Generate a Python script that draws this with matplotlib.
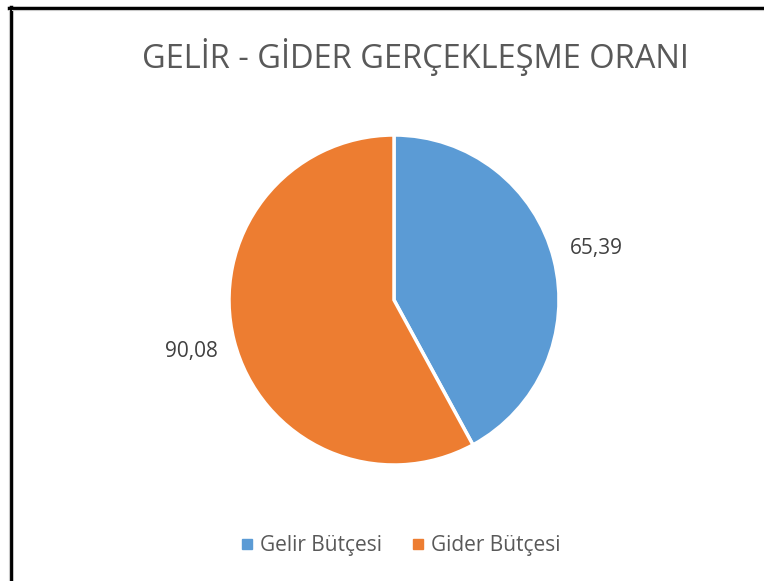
import matplotlib
matplotlib.use("Agg")
import matplotlib.pyplot as plt
from matplotlib.lines import Line2D

categories = ["Gelir Bütçesi", "Gider Bütçesi"]
values = [65.39, 90.08]
value_labels = ["65,39", "90,08"]
colors = ["#5B9BD5", "#ED7D31"]
title = "GELİR - GİDER GERÇEKLEŞME ORANI"

plt.rcParams['font.family'] = ['Open Sans', 'DejaVu Sans']

W, H = 764, 581
fig = plt.figure(figsize=(W / 100, H / 100), dpi=100)
ax = fig.add_axes([0, 0, 1, 1])

wedges, texts = ax.pie(values, labels=value_labels, colors=colors, startangle=90,
                       counterclock=False, center=(394, H - 300), radius=165,
                       labeldistance=1.265,
                       wedgeprops=dict(edgecolor='white', linewidth=2.5),
                       textprops=dict(fontsize=15, color='#404040'))
for t in texts:
    t.set_horizontalalignment('center')
    t.set_verticalalignment('center')
ax.set_xlim(0, W)
ax.set_ylim(0, H)
ax.set_aspect('equal')
ax.axis('off')

fig.text(416 / W, 1 - 57 / H, title, ha='center', va='center', fontsize=23.5, color='#595959')

handles = [Line2D([0], [0], marker='s', linestyle='none', markersize=6.5,
                  markerfacecolor=c, markeredgecolor=c) for c in colors]
leg = fig.legend(handles, categories, loc='center', bbox_to_anchor=(399 / W, 1 - 546 / H),
                 ncol=2, frameon=False, fontsize=15, handletextpad=0.15, columnspacing=1.3,
                 handlelength=0.9)
for t in leg.get_texts():
    t.set_color('#595959')

# frame lines (top and left)
fig.add_artist(Line2D([9 / W, 1], [1 - 8 / H, 1 - 8 / H], color='black', linewidth=2.5, transform=fig.transFigure))
fig.add_artist(Line2D([10.5 / W, 10.5 / W], [0, 1 - 7 / H], color='black', linewidth=2.5, transform=fig.transFigure))
fig.add_artist(Line2D([12 / W, 1], [1 - 10 / H, 1 - 10 / H], color='#c8c8c8', linewidth=0.8, transform=fig.transFigure))
fig.add_artist(Line2D([8.5 / W, 8.5 / W], [0, 1 - 10 / H], color='#c8c8c8', linewidth=0.8, transform=fig.transFigure))

fig.savefig("out.png", dpi=100, facecolor='white')
